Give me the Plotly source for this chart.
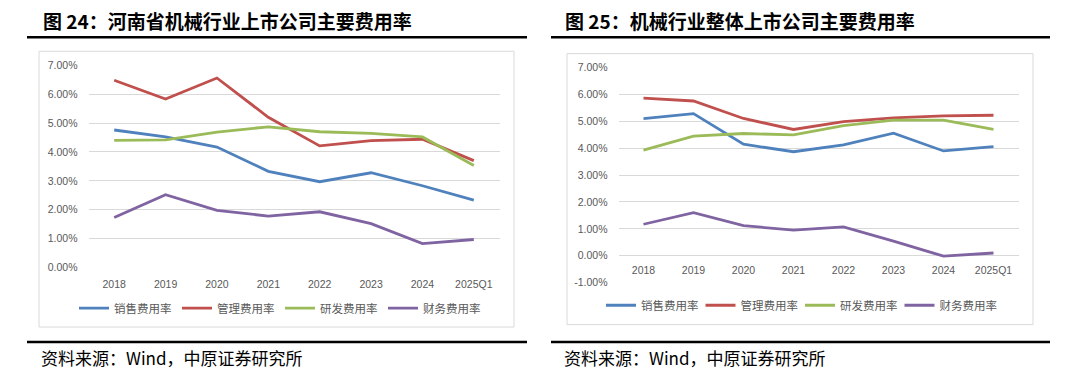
import plotly.graph_objects as go

# page body adds an 8px margin, so the figure is laid out 8px in from the window edge
OFF = 8
W, H = 1078 - OFF, 379 - OFF

categories = ["2018", "2019", "2020", "2021", "2022", "2023", "2024", "2025Q1"]
series_names = ["销售费用率", "管理费用率", "研发费用率", "财务费用率"]
series_colors = ["#4F81BD", "#C0504D", "#9BBB59", "#8064A2"]

# Figure 24: Henan machinery listed companies (percent)
henan_sales = [4.76, 4.52, 4.17, 3.33, 2.97, 3.28, 2.83, 2.33]
henan_admin = [6.48, 5.83, 6.56, 5.20, 4.21, 4.39, 4.44, 3.70]
henan_rd = [4.40, 4.42, 4.69, 4.87, 4.70, 4.64, 4.52, 3.53]
henan_fin = [1.73, 2.52, 1.98, 1.78, 1.93, 1.52, 0.83, 0.97]

# Figure 25: whole machinery industry (percent)
nation_sales = [5.10, 5.29, 4.15, 3.87, 4.13, 4.56, 3.90, 4.06]
nation_admin = [5.87, 5.76, 5.11, 4.70, 4.99, 5.13, 5.21, 5.23]
nation_rd = [3.93, 4.45, 4.55, 4.50, 4.84, 5.05, 5.05, 4.70]
nation_fin = [1.17, 1.60, 1.12, 0.95, 1.07, 0.54, -0.02, 0.10]

left_tickvals = [0, 1, 2, 3, 4, 5, 6, 7]
left_ticktext = ["0.00%", "1.00%", "2.00%", "3.00%", "4.00%", "5.00%", "6.00%", "7.00%"]
right_tickvals = [-1, 0, 1, 2, 3, 4, 5, 6, 7]
right_ticktext = ["-1.00%", "0.00%", "1.00%", "2.00%", "3.00%", "4.00%", "5.00%", "6.00%", "7.00%"]

title_left = "图 24：河南省机械行业上市公司主要费用率"
title_right = "图 25：机械行业整体上市公司主要费用率"
source_text = "资料来源：Wind，中原证券研究所"


def px(x):
    return (x - OFF) / W


def py(y):
    return 1 - (y - OFF) / H


CJK = "Noto Sans CJK SC"
TICKFONT = dict(family="Liberation Sans, Arial", size=10.5, color="#595959")
GRID = "#D9D9D9"

fig = go.Figure()

left_data = [henan_sales, henan_admin, henan_rd, henan_fin]
right_data = [nation_sales, nation_admin, nation_rd, nation_fin]

for name, color, vals in zip(series_names, series_colors, left_data):
    fig.add_trace(go.Scatter(x=categories, y=vals, name=name, mode="lines",
                             line=dict(color=color, width=2.8),
                             xaxis="x", yaxis="y", legend="legend"))
for name, color, vals in zip(series_names, series_colors, right_data):
    fig.add_trace(go.Scatter(x=categories, y=vals, name=name, mode="lines",
                             line=dict(color=color, width=2.8),
                             xaxis="x2", yaxis="y2", legend="legend2"))

fig.update_layout(
    width=W, height=H,
    margin=dict(l=0, r=0, t=0, b=0),
    paper_bgcolor="white", plot_bgcolor="white",
    showlegend=True,
    xaxis=dict(domain=[px(88.5), px(499.5)], type="category", range=[-0.5, 7.5],
               showgrid=False, zeroline=False, showline=False, ticks="",
               tickfont=TICKFONT, ticklabelstandoff=9, anchor="y"),
    yaxis=dict(domain=[py(270), py(61)], range=[0, 7], tickvals=left_tickvals,
               ticktext=left_ticktext, showgrid=True, gridcolor=GRID, gridwidth=1,
               zeroline=False, showline=False, ticks="", tickfont=TICKFONT,
               ticklabelstandoff=10, anchor="x"),
    xaxis2=dict(domain=[px(618.5), px(1018.5)], type="category", range=[-0.5, 7.5],
                showgrid=False, zeroline=False, showline=False, ticks="",
                tickfont=TICKFONT, ticklabelstandoff=7, anchor="free",
                position=py(258)),
    yaxis2=dict(domain=[py(285.5), py(63.5)], range=[-1, 7], tickvals=right_tickvals,
                ticktext=right_ticktext, showgrid=True, gridcolor=GRID, gridwidth=1,
                zeroline=False, showline=False, ticks="", tickfont=TICKFONT,
                ticklabelstandoff=10, anchor="x2"),
    legend=dict(orientation="h", x=px(74), y=py(312), xanchor="left", yanchor="middle",
                bgcolor="rgba(0,0,0,0)", borderwidth=0,
                font=dict(family=CJK, size=11.5, color="#595959"),
                entrywidth=58, entrywidthmode="pixels", itemwidth=30),
    legend2=dict(orientation="h", x=px(601), y=py(309), xanchor="left", yanchor="middle",
                 bgcolor="rgba(0,0,0,0)", borderwidth=0,
                 font=dict(family=CJK, size=11.5, color="#595959"),
                 entrywidth=54.5, entrywidthmode="pixels", itemwidth=30),
)

shapes = []
# chart frames
shapes.append(dict(type="rect", xref="paper", yref="paper", x0=px(39), x1=px(514),
                   y0=py(331.5), y1=py(46.5), line=dict(color="#D9D9D9", width=1)))
shapes.append(dict(type="rect", xref="paper", yref="paper", x0=px(567), x1=px(1033),
                   y0=py(329), y1=py(49), line=dict(color="#D9D9D9", width=1)))
# thick rules under titles and above sources
for (xa, xb) in [(27, 527), (551, 1050)]:
    for yy in [32, 347]:
        shapes.append(dict(type="line", xref="paper", yref="paper", x0=px(xa), x1=px(xb),
                           y0=py(yy), y1=py(yy), line=dict(color="black", width=2.6)))
fig.update_layout(shapes=shapes)

annotations = [
    dict(text=f"<b>{title_left}</b>", x=px(41), y=py(15), xref="paper", yref="paper",
         xanchor="left", yanchor="middle", showarrow=False,
         font=dict(family=CJK, size=19, color="black")),
    dict(text=f"<b>{title_right}</b>", x=px(563), y=py(15), xref="paper", yref="paper",
         xanchor="left", yanchor="middle", showarrow=False,
         font=dict(family=CJK, size=19, color="black")),
    dict(text=source_text, x=px(39), y=py(363), xref="paper", yref="paper",
         xanchor="left", yanchor="middle", showarrow=False,
         font=dict(family=CJK, size=17, color="black")),
    dict(text=source_text, x=px(562), y=py(363), xref="paper", yref="paper",
         xanchor="left", yanchor="middle", showarrow=False,
         font=dict(family=CJK, size=17, color="black")),
]
fig.update_layout(annotations=annotations)

fig.write_html("out.html")
